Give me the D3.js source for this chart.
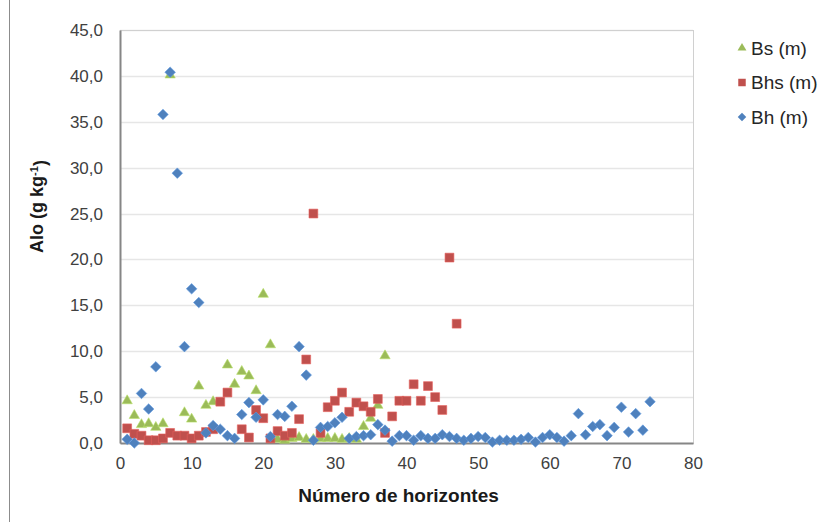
<!DOCTYPE html>
<html>
<head>
<meta charset="utf-8">
<script src="https://cdn.jsdelivr.net/npm/d3@7"></script>
<style>
  body { margin: 0; background: #fff; }
  svg text { font-family: Arial, "Liberation Sans", sans-serif; }
</style>
</head>
<body>
<div id="chart"></div>
<script>
// Alo por número de horizonte
const bsX  = [1, 2, 3, 4, 5, 6, 7, 9, 10, 11, 12, 13, 15, 16, 17, 18, 19, 20, 21, 22, 23, 24, 25, 26, 27, 28, 29, 30, 31, 32, 33, 34, 35, 36, 37];
const bsY  = [4.6, 3.0, 2.0, 2.1, 1.7, 2.1, 40.1, 3.3, 2.6, 6.2, 4.1, 4.5, 8.5, 6.4, 7.8, 7.3, 5.7, 16.2, 10.7, 0.4, 0.3, 0.5, 0.6, 0.4, 0.4, 0.5, 0.5, 0.5, 0.4, 0.5, 0.4, 1.8, 2.7, 4.1, 9.5];

const bhsX = [1, 2, 3, 4, 5, 6, 7, 8, 9, 10, 11, 12, 13, 14, 15, 17, 18, 19, 20, 21, 22, 23, 24, 25, 26, 27, 28, 29, 30, 31, 32, 33, 34, 35, 36, 37, 38, 39, 40, 41, 42, 43, 44, 45, 46, 47];
const bhsY = [1.6, 1.0, 0.8, 0.3, 0.3, 0.5, 1.1, 0.8, 0.8, 0.5, 0.8, 1.2, 1.5, 4.5, 5.5, 1.5, 0.6, 3.6, 2.7, 0.5, 1.3, 0.8, 1.1, 2.6, 9.1, 25.0, 1.1, 3.9, 4.6, 5.5, 3.4, 4.4, 4.0, 3.4, 4.8, 1.1, 2.9, 4.6, 4.6, 6.4, 4.6, 6.2, 5.0, 3.6, 20.2, 13.0];

const bhX  = d3.range(1, 75);
const bhY  = [0.4, 0.0, 5.4, 3.7, 8.3, 35.8, 40.4, 29.4, 10.5, 16.8,
              15.3, 1.1, 1.9, 1.5, 0.8, 0.5, 3.1, 4.4, 2.8, 4.7,
              0.7, 3.1, 2.9, 4.0, 10.5, 7.4, 0.3, 1.7, 1.8, 2.2,
              2.8, 0.5, 0.7, 0.8, 0.9, 2.0, 1.4, 0.2, 0.8, 0.8,
              0.3, 0.8, 0.5, 0.5, 0.9, 0.7, 0.5, 0.3, 0.5, 0.7,
              0.6, 0.1, 0.3, 0.3, 0.3, 0.4, 0.6, 0.1, 0.6, 0.9,
              0.6, 0.2, 0.8, 3.2, 0.9, 1.8, 2.0, 0.8, 1.7, 3.9,
              1.2, 3.2, 1.4, 4.5];

const xTicks = [0, 10, 20, 30, 40, 50, 60, 70, 80];
const yTicks = [0, 5, 10, 15, 20, 25, 30, 35, 40, 45];

const seriesNames = ["Bs (m)", "Bhs (m)", "Bh (m)"];
const seriesColors = ["#9BBB59", "#C0504D", "#4F81BD"];

// rombo de Excel: cuadrado girado 45°
const diamond = {
    draw(ctx, size) {
        const r = Math.sqrt(size / 2);
        ctx.moveTo(0, -r);
        ctx.lineTo(r, 0);
        ctx.lineTo(0, r);
        ctx.lineTo(-r, 0);
        ctx.closePath();
    }
};
const seriesShapes = [d3.symbolTriangle, d3.symbolSquare, diamond];

const W = 829, H = 522;
const margin = { top: 30, right: 136, bottom: 79, left: 120 };
const width = W - margin.left - margin.right;
const height = H - margin.top - margin.bottom;

const svgRoot = d3.select("#chart").append("svg")
    .attr("width", W)
    .attr("height", H);

// borde exterior del gráfico
svgRoot.append("line")
    .attr("x1", 9.5).attr("x2", 9.5)
    .attr("y1", 0).attr("y2", H)
    .attr("stroke", "#8c8c8c");

const svg = svgRoot.append("g")
    .attr("transform", `translate(${margin.left}, ${margin.top})`);

const x = d3.scaleLinear().domain([0, 80]).range([0, width]);
const y = d3.scaleLinear().domain([0, 45]).range([height, 0]);

const fmt = v => d3.format(".1f")(v).replace(".", ",");

// líneas de división
svg.append("g")
    .selectAll("line")
    .data(yTicks.slice(1))
    .enter().append("line")
    .attr("x1", 0).attr("x2", width)
    .attr("y1", d => Math.round(y(d)) + 0.5)
    .attr("y2", d => Math.round(y(d)) + 0.5)
    .attr("stroke", "#e6e6e6")
    .attr("stroke-width", 1.5);

// marco del área de trazado
svg.append("rect")
    .attr("x", 0.5).attr("y", 0.5)
    .attr("width", width).attr("height", height)
    .attr("fill", "none")
    .attr("stroke", "#d0d0d0");

const xAxis = svg.append("g")
    .attr("transform", `translate(0, ${height})`)
    .call(d3.axisBottom(x).tickValues(xTicks).tickSize(0).tickPadding(14).tickFormat(d3.format("d")));

const yAxis = svg.append("g")
    .call(d3.axisLeft(y).tickValues(yTicks).tickSize(0).tickPadding(17).tickFormat(fmt));

[xAxis, yAxis].forEach(a => {
    a.select(".domain").attr("stroke", "#868686").attr("stroke-width", 2);
    a.selectAll("text")
        .attr("fill", "#404040")
        .style("font-size", "17px");
});

// títulos de ejes
svg.append("text")
    .attr("x", width / 2 - 8)
    .attr("y", height + 59)
    .attr("text-anchor", "middle")
    .style("font-size", "19px")
    .style("font-weight", "bold")
    .attr("fill", "#1a1a1a")
    .text("Número de horizontes");

const yTitle = svg.append("text")
    .attr("transform", `translate(${37 - margin.left}, ${height / 2 - 30}) rotate(-90)`)
    .attr("text-anchor", "middle")
    .attr("dy", "0.35em")
    .style("font-size", "18px")
    .style("font-weight", "bold")
    .attr("fill", "#1a1a1a");
yTitle.append("tspan").text("Alo (g kg");
yTitle.append("tspan").attr("dy", "-0.45em").style("font-size", "11px").text("-1");
yTitle.append("tspan").attr("dy", "0.45em").text(")");

// series
const series = [
    { xs: bsX, ys: bsY },
    { xs: bhsX, ys: bhsY },
    { xs: bhX, ys: bhY }
];

const sizes = [46, 78, 56];

series.forEach((s, i) => {
    const pts = s.xs.map((v, j) => ({ x: v, y: s.ys[j] }));
    svg.append("g")
        .selectAll("path")
        .data(pts)
        .enter().append("path")
        .attr("d", d3.symbol().type(seriesShapes[i]).size(sizes[i]))
        .attr("transform", d => `translate(${x(d.x)}, ${y(d.y)})`)
        .attr("fill", seriesColors[i])
        .attr("stroke", d3.color(seriesColors[i]).brighter(0.5))
        .attr("stroke-width", 0.6);
});

// leyenda
const legend = svgRoot.append("g").attr("transform", "translate(742, 48)");
seriesNames.forEach((name, i) => {
    const g = legend.append("g").attr("transform", `translate(0, ${i * 34.5})`);
    g.append("path")
        .attr("d", d3.symbol().type(seriesShapes[i]).size([34, 56, 36][i]))
        .attr("fill", seriesColors[i]);
    g.append("text")
        .attr("x", 9)
        .attr("dy", "0.35em")
        .style("font-size", "19px")
        .attr("fill", "#262626")
        .text(name);
});
</script>
</body>
</html>
